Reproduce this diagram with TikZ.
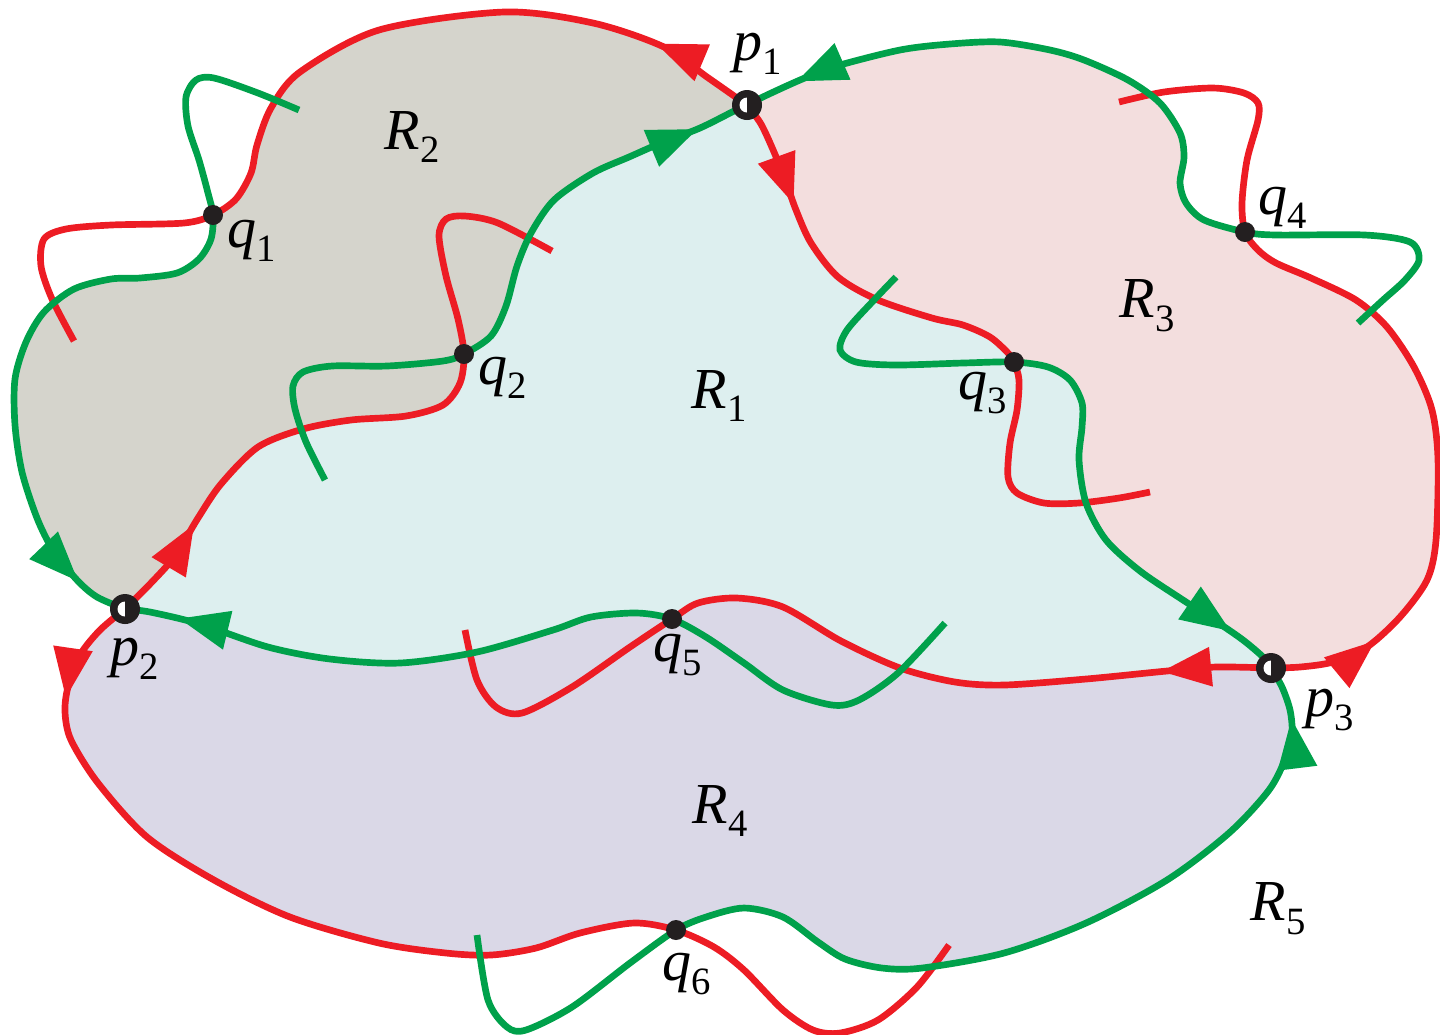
\documentclass[tikz,border=0pt]{standalone}
\usepackage{fontspec}
\setmainfont{Liberation Serif}
\usetikzlibrary{arrows.meta,decorations.markings}

\definecolor{cred}{RGB}{237,28,36}
\definecolor{cgreen}{RGB}{0,161,75}
\definecolor{fillone}{RGB}{221,239,239}
\definecolor{filltwo}{RGB}{213,212,204}
\definecolor{fillthree}{RGB}{243,222,222}
\definecolor{fillfour}{RGB}{218,216,231}
\definecolor{dotc}{RGB}{35,31,32}

\newcommand\plab[2]{\textit{#1}\raisebox{-0.24em}{\fontsize{11}{11}\selectfont #2}}

% boundary pieces between the points
\def\Lone{(p1) (707,77) (664,47) (593,23) (504,12) (379,30) (300,72) (271,108) (257,145) (251,173) (236,199) (q1)}
\def\Ltwo{(q1) (211,239) (199,259) (177,273) (140,278) (111,279) (74,289) (44,312) (26,342) (15,379) (15,425) (22,472) (37,518) (53,550) (77,580) (97,597) (p2)}
\def\Lthree{(p2) (150,584) (175,556) (198,518) (221,484) (258,447) (303,429) (351,420) (406,416) (443,405) (460,383) (q2)}
\def\Lfour{(q2) (491,336) (506,306) (517,266) (531,233) (554,200) (593,173) (629,157) (661,143) (700,128) (736,110) (p1)}
\def\Lfive{(p1) (761,124) (774,152) (786,182) (796,210) (811,243) (838,277) (878,300) (932,318) (963,325) (990,337) (1008,353) (q3)}
\def\Lsix{(q3) (1048,367) (1070,380) (1082,403) (1082,427) (1079,460) (1086,503) (1106,540) (1140,571) (1183,600) (1217,622) (1243,640) (1263,657) (p3)}
\def\Lseven{(p3) (1216,667) (1167,671) (1086,679) (1004,685) (955,682) (900,668) (841,641) (783,607) (737,598) (698,603) (q5)}
\def\Leight{(q5) (637,613) (591,617) (553,630) (477,652) (400,663) (330,659) (268,647) (200,624) (150,612) (p2)}
\def\Lnine{(p2) (100,630) (80,655) (68,687) (65,712) (71,740) (98,783) (147,837) (214,880) (290,917) (379,943) (446,953) (491,955) (536,948) (580,933) (634,923) (q6)}
\def\Lten{(q6) (706,917) (744,908) (783,917) (818,942) (845,959) (882,968) (922,968) (1004,953) (1086,923) (1167,880) (1229,833) (1269,790) (1286,757) (1292,733) (1290,710) (1282,687) (p3)}
\def\Leleven{(q4) (1204,220) (1186,203) (1180,183) (1184,157) (1180,133) (1160,103) (1128,80) (1084,60) (1050,50) (1000,42) (950,44) (900,50) (833,67) (800,80) (767,95) (p1)}
\def\Ltwelve{(p3) (1300,667) (1333,662) (1367,647) (1400,617) (1427,580) (1436,540) (1438,460) (1432,410) (1414,367) (1387,327) (1356,300) (1311,278) (1276,263) (1258,250) (q4)}
% loose red ends, after q
\def\Mone{(184,223) (111,225) (66,229) (44,239) (41,266) (52,299) (74,341)}
\def\Mtwo{(458,319) (446,276) (439,236) (446,219) (465,216) (498,223) (552,251)}
\def\Mthree{(1019,380) (1017,410) (1010,443) (1008,477) (1017,493) (1044,503) (1079,503) (1119,498) (1150,492)}
\def\Mfour{(1242,203) (1247,160) (1258,120) (1258,103) (1244,93) (1213,88) (1164,92) (1119,102)}
\def\Mfive{(630,647) (572,687) (522,713) (496,707) (477,680) (465,630)}
\def\Msix{(714,947) (744,970) (783,1010) (813,1030) (840,1033) (878,1020) (917,987) (949,945)}
% loose green ends, before q
\def\None{(299,110) (258,93) (214,78) (196,80) (186,97) (188,126) (199,160) (208,193)}
\def\Ntwo{(325,480) (306,442) (295,409) (293,386) (303,372) (332,366) (387,366) (443,361)}
\def\Nthree{(896,277) (874,300) (847,330) (840,350) (856,362) (896,365) (963,363)}
\def\Nfour{(1358,323) (1383,300) (1405,280) (1419,260) (1410,242) (1365,235) (1276,235)}
\def\Nfive{(945,623) (898,673) (859,700) (832,705) (783,690) (744,663) (706,637)}
\def\Nsix{(477,935) (488,1000) (507,1027) (526,1030) (572,1007) (630,963)}

\def\seg#1{-- plot[smooth] coordinates {#1}}
\newcommand\fillregion[2]{\edef\pathtmp{\noexpand\fill[#1] #2 -- cycle;}\pathtmp}
\newcommand\drawcurve[2]{\edef\pathtmp{\noexpand\draw[#1] plot[smooth] coordinates {#2};}\pathtmp}

\tikzset{
  redl/.style={draw=cred, line width=1.9pt},
  greenl/.style={draw=cgreen, line width=1.9pt},
  outarr/.style={postaction={decorate}, decoration={markings,
    mark=at position 1.1cm with {\arrow[#1]{Triangle[length=5mm,width=3.8mm]}}}},
  inarr/.style={postaction={decorate}, decoration={markings,
    mark=at position -0.55cm with {\arrow[#1]{Triangle[length=5mm,width=3.8mm]}}}},
  qdot/.style={circle, fill=dotc, inner sep=0pt, minimum size=2mm},
  pdot/.style={circle, fill=dotc, inner sep=0pt, minimum size=3mm,
    path picture={\fill[white] (path picture bounding box.center) circle (0.75mm);
      \fill[dotc] (path picture bounding box.center) ++(0,-1mm) rectangle ++(1mm,2mm);}},
}

\begin{document}
\begin{tikzpicture}[x=0.1mm, y=-0.1mm, font=\fontsize{16.5}{19}\selectfont]
  \useasboundingbox (0,0) rectangle (1440,1034);
  \coordinate (p1) at (747,105);
  \coordinate (p2) at (125,609);
  \coordinate (p3) at (1271,668);
  \coordinate (q1) at (213,215);
  \coordinate (q2) at (464,354);
  \coordinate (q3) at (1014,362);
  \coordinate (q4) at (1245,232);
  \coordinate (q5) at (672,619);
  \coordinate (q6) at (676,930);

  % regions
  \fillregion{filltwo}{(p1) \seg\Lone \seg\Ltwo \seg\Lthree \seg\Lfour}
  \fillregion{fillone}{(q2) \seg\Lfour \seg\Lfive \seg\Lsix \seg\Lseven \seg\Leight \seg\Lthree}
  \fillregion{fillthree}{(p1) \seg\Lfive \seg\Lsix \seg\Ltwelve \seg\Leleven}
  \fillregion{fillfour}{(p2) \seg\Lnine \seg\Lten \seg\Lseven \seg\Leight}

  % red curves leave p1, p2, p3
  \drawcurve{redl, outarr=cred}{\Lone \Mone}
  \drawcurve{redl, outarr=cred}{\Lfive \Mthree}
  \drawcurve{redl, outarr=cred}{\Lthree \Mtwo}
  \drawcurve{redl, outarr=cred}{\Lnine \Msix}
  \drawcurve{redl, outarr=cred}{\Lseven \Mfive}
  \drawcurve{redl, outarr=cred}{\Ltwelve \Mfour}
  % green curves run into p1, p2, p3
  \drawcurve{greenl, inarr=cgreen}{\None \Ltwo}
  \drawcurve{greenl, inarr=cgreen}{\Nfive \Leight}
  \drawcurve{greenl, inarr=cgreen}{\Ntwo \Lfour}
  \drawcurve{greenl, inarr=cgreen}{\Nfour \Leleven}
  \drawcurve{greenl, inarr=cgreen}{\Nthree \Lsix}
  \drawcurve{greenl, inarr=cgreen}{\Nsix \Lten}

  \node[pdot] (dp1) at (p1) {};
  \node[pdot] (dp2) at (p2) {};
  \node[pdot] (dp3) at (p3) {};
  \foreach \i in {1,...,6}
    \node[qdot] (dq\i) at (q\i) {};

  \node (lp1) at (758,54) {\plab{p}{1}};
  \node (lp2) at (135,659) {\plab{p}{2}};
  \node (lp3) at (1330,710) {\plab{p}{3}};
  \node (lq1) at (252,241) {\plab{q}{1}};
  \node (lq2) at (503,378) {\plab{q}{2}};
  \node (lq3) at (983,393) {\plab{q}{3}};
  \node (lq4) at (1283,208) {\plab{q}{4}};
  \node (lq5) at (678,655) {\plab{q}{5}};
  \node (lq6) at (687,974) {\plab{q}{6}};
  \node (r1) at (719,396) {\plab{R}{1}};
  \node (r2) at (412,137) {\plab{R}{2}};
  \node (r3) at (1147,306) {\plab{R}{3}};
  \node (r4) at (720,811) {\plab{R}{4}};
  \node (r5) at (1278,909) {\plab{R}{5}};
\end{tikzpicture}
\end{document}
